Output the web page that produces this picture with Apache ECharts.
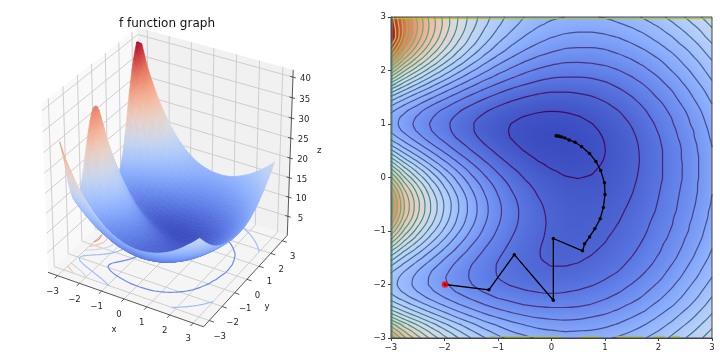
<!DOCTYPE html>
<html>
<head>
<meta charset="utf-8">
<style>
  html, body { margin: 0; padding: 0; background: #fff; }
  #chart { width: 720px; height: 357px; }
</style>
<script src="https://cdn.jsdelivr.net/npm/echarts@6/dist/echarts.min.js"></script>
</head>
<body>
<div id="chart"></div>
<script>
// grid positions of the table below
const xValues = [-3, -2.75, -2.5, -2.25, -2, -1.75, -1.5, -1.25, -1, -0.75, -0.5, -0.25, 0, 0.25, 0.5, 0.75, 1, 1.25, 1.5, 1.75, 2, 2.25, 2.5, 2.75, 3];
const yValues = [3, 2.875, 2.75, 2.625, 2.5, 2.375, 2.25, 2.125, 2, 1.875, 1.75, 1.625, 1.5, 1.375, 1.25, 1.125, 1, 0.875, 0.75, 0.625, 0.5, 0.375, 0.25, 0.125, 0, -0.125, -0.25, -0.375, -0.5, -0.625, -0.75, -0.875, -1, -1.125, -1.25, -1.375, -1.5, -1.625, -1.75, -1.875, -2, -2.125, -2.25, -2.375, -2.5, -2.625, -2.75, -2.875, -3];
const zRows = [
  [39.6, 34.3, 30.4, 27.0, 24.1, 21.6, 19.4, 17.6, 16.0, 14.8, 13.8, 13.1, 12.6, 12.3, 12.2, 12.2, 12.4, 12.8, 13.4, 14.1, 14.9, 15.9, 17.0, 18.2, 19.6],
  [40.0, 34.8, 30.8, 27.2, 24.2, 21.5, 19.2, 17.3, 15.7, 14.4, 13.4, 12.6, 12.0, 11.7, 11.6, 11.6, 11.8, 12.2, 12.7, 13.4, 14.2, 15.2, 16.3, 17.5, 18.9],
  [40.6, 34.9, 30.7, 27.1, 23.9, 21.2, 18.8, 16.8, 15.2, 13.9, 12.8, 12.0, 11.4, 11.1, 10.9, 10.9, 11.1, 11.5, 12.0, 12.7, 13.5, 14.5, 15.6, 16.8, 18.2],
  [40.9, 34.5, 30.2, 26.6, 23.4, 20.6, 18.2, 16.2, 14.6, 13.2, 12.2, 11.4, 10.8, 10.4, 10.3, 10.3, 10.5, 10.8, 11.4, 12.0, 12.9, 13.8, 14.9, 16.2, 17.6],
  [39.2, 33.4, 29.3, 25.7, 22.5, 19.8, 17.5, 15.5, 13.8, 12.5, 11.5, 10.7, 10.1, 9.7, 9.6, 9.6, 9.8, 10.2, 10.7, 11.4, 12.2, 13.2, 14.3, 15.5, 16.9],
  [37.4, 31.9, 27.9, 24.4, 21.4, 18.7, 16.5, 14.5, 13.0, 11.7, 10.7, 9.9, 9.4, 9.0, 8.9, 8.9, 9.1, 9.5, 10.0, 10.7, 11.6, 12.5, 13.6, 14.9, 16.3],
  [35.1, 29.9, 26.1, 22.8, 19.9, 17.5, 15.3, 13.5, 12.0, 10.8, 9.8, 9.1, 8.6, 8.3, 8.2, 8.2, 8.5, 8.9, 9.4, 10.1, 10.9, 11.9, 13.0, 14.3, 15.7],
  [32.3, 27.5, 24.0, 21.0, 18.3, 16.0, 14.0, 12.3, 10.9, 9.8, 8.9, 8.3, 7.8, 7.5, 7.5, 7.6, 7.8, 8.2, 8.8, 9.5, 10.3, 11.3, 12.5, 13.7, 15.1],
  [29.2, 24.9, 21.7, 18.9, 16.5, 14.4, 12.6, 11.1, 9.8, 8.8, 8.0, 7.4, 7.0, 6.8, 6.8, 6.9, 7.2, 7.6, 8.2, 8.9, 9.8, 10.8, 11.9, 13.2, 14.6],
  [25.9, 22.1, 19.3, 16.8, 14.7, 12.8, 11.2, 9.8, 8.7, 7.8, 7.1, 6.6, 6.2, 6.1, 6.1, 6.2, 6.5, 7.0, 7.6, 8.3, 9.2, 10.2, 11.4, 12.7, 14.1],
  [22.6, 19.4, 16.9, 14.7, 12.8, 11.2, 9.8, 8.5, 7.6, 6.8, 6.2, 5.7, 5.5, 5.3, 5.4, 5.6, 5.9, 6.4, 7.0, 7.8, 8.7, 9.7, 10.9, 12.2, 13.6],
  [19.4, 16.8, 14.6, 12.8, 11.1, 9.7, 8.4, 7.4, 6.5, 5.8, 5.3, 4.9, 4.7, 4.7, 4.8, 5.0, 5.4, 5.9, 6.5, 7.3, 8.2, 9.2, 10.4, 11.7, 13.1],
  [16.6, 14.4, 12.6, 11.0, 9.6, 8.3, 7.23, 6.32, 5.57, 4.97, 4.53, 4.23, 4.08, 4.07, 4.20, 4.46, 4.85, 5.38, 6.04, 6.83, 7.8, 8.8, 10.0, 11.3, 12.7],
  [14.4, 12.5, 11.0, 9.5, 8.3, 7.2, 6.23, 5.43, 4.77, 4.25, 3.87, 3.62, 3.52, 3.54, 3.69, 3.98, 4.40, 4.94, 5.61, 6.41, 7.3, 8.4, 9.6, 10.9, 12.3],
  [12.7, 11.1, 9.7, 8.4, 7.3, 6.3, 5.46, 4.72, 4.13, 3.66, 3.33, 3.12, 3.04, 3.09, 3.27, 3.57, 4.00, 4.55, 5.24, 6.04, 7.0, 8.0, 9.2, 10.5, 12.0],
  [11.7, 10.3, 9.0, 7.8, 6.7, 5.8, 4.94, 4.25, 3.69, 3.24, 2.93, 2.74, 2.68, 2.74, 2.93, 3.23, 3.67, 4.23, 4.92, 5.73, 6.7, 7.7, 8.9, 10.2, 11.7],
  [11.5, 10.1, 8.7, 7.5, 6.5, 5.5, 4.69, 3.99, 3.43, 2.98, 2.67, 2.48, 2.41, 2.47, 2.66, 2.97, 3.41, 3.96, 4.65, 5.46, 6.4, 7.5, 8.7, 10.0, 11.4],
  [12.0, 10.4, 9.0, 7.7, 6.6, 5.6, 4.71, 3.97, 3.37, 2.90, 2.56, 2.34, 2.27, 2.31, 2.49, 2.78, 3.21, 3.77, 4.45, 5.26, 6.2, 7.3, 8.4, 9.7, 11.2],
  [13.2, 11.4, 9.8, 8.3, 7.1, 5.9, 4.97, 4.15, 3.48, 2.95, 2.57, 2.32, 2.21, 2.22, 2.38, 2.66, 3.08, 3.62, 4.29, 5.09, 6.0, 7.1, 8.3, 9.6, 11.0],
  [15.1, 12.8, 11.0, 9.3, 7.9, 6.6, 5.47, 4.54, 3.77, 3.17, 2.72, 2.41, 2.26, 2.24, 2.36, 2.62, 3.01, 3.53, 4.19, 4.97, 5.9, 6.9, 8.1, 9.4, 10.8],
  [17.4, 14.6, 12.5, 10.6, 8.9, 7.4, 6.15, 5.08, 4.19, 3.49, 2.96, 2.59, 2.38, 2.31, 2.40, 2.63, 2.99, 3.50, 4.14, 4.91, 5.8, 6.8, 8.0, 9.3, 10.7],
  [20.0, 16.7, 14.2, 12.0, 10.1, 8.4, 6.95, 5.73, 4.71, 3.90, 3.29, 2.84, 2.57, 2.45, 2.50, 2.69, 3.02, 3.50, 4.12, 4.88, 5.8, 6.8, 8.0, 9.2, 10.7],
  [22.8, 19.0, 16.1, 13.6, 11.4, 9.5, 7.83, 6.44, 5.29, 4.37, 3.66, 3.14, 2.80, 2.63, 2.63, 2.79, 3.09, 3.54, 4.14, 4.88, 5.8, 6.8, 7.9, 9.2, 10.6],
  [25.6, 21.2, 18.0, 15.2, 12.7, 10.6, 8.74, 7.18, 5.90, 4.87, 4.07, 3.47, 3.07, 2.84, 2.80, 2.92, 3.20, 3.62, 4.20, 4.92, 5.8, 6.8, 7.9, 9.2, 10.6],
  [28.1, 23.3, 19.7, 16.6, 14.0, 11.6, 9.58, 7.88, 6.47, 5.34, 4.45, 3.79, 3.33, 3.05, 2.97, 3.06, 3.31, 3.71, 4.27, 4.98, 5.8, 6.8, 7.9, 9.2, 10.6],
  [30.3, 25.1, 21.3, 17.9, 15.0, 12.5, 10.34, 8.51, 7.00, 5.78, 4.82, 4.10, 3.59, 3.27, 3.16, 3.22, 3.44, 3.83, 4.37, 5.06, 5.9, 6.9, 8.0, 9.3, 10.7],
  [32.1, 26.5, 22.5, 18.9, 15.9, 13.2, 10.94, 9.02, 7.43, 6.14, 5.13, 4.36, 3.81, 3.46, 3.33, 3.36, 3.57, 3.94, 4.47, 5.15, 6.0, 7.0, 8.1, 9.3, 10.7],
  [33.2, 27.4, 23.3, 19.6, 16.5, 13.8, 11.37, 9.39, 7.75, 6.42, 5.38, 4.57, 4.00, 3.64, 3.48, 3.51, 3.70, 4.07, 4.59, 5.26, 6.1, 7.1, 8.2, 9.4, 10.8],
  [33.6, 27.8, 23.6, 19.9, 16.8, 14.0, 11.6, 9.60, 7.94, 6.60, 5.54, 4.73, 4.15, 3.78, 3.62, 3.64, 3.83, 4.19, 4.71, 5.38, 6.2, 7.2, 8.3, 9.5, 10.9],
  [33.5, 27.7, 23.5, 19.9, 16.7, 14.0, 11.62, 9.64, 8.00, 6.67, 5.63, 4.82, 4.25, 3.89, 3.73, 3.76, 3.95, 4.32, 4.84, 5.51, 6.3, 7.3, 8.4, 9.7, 11.1],
  [32.6, 27.0, 23.0, 19.4, 16.4, 13.7, 11.44, 9.52, 7.93, 6.64, 5.63, 4.86, 4.31, 3.96, 3.83, 3.86, 4.07, 4.44, 4.97, 5.65, 6.5, 7.5, 8.6, 9.8, 11.2],
  [31.1, 25.8, 22.0, 18.7, 15.8, 13.3, 11.09, 9.26, 7.75, 6.53, 5.57, 4.85, 4.34, 4.02, 3.91, 3.97, 4.19, 4.58, 5.12, 5.81, 6.7, 7.6, 8.8, 10.0, 11.4],
  [29.1, 24.3, 20.7, 17.6, 15.0, 12.6, 10.58, 8.88, 7.47, 6.34, 5.45, 4.79, 4.33, 4.05, 3.97, 4.06, 4.31, 4.71, 5.27, 5.98, 6.8, 7.8, 8.9, 10.2, 11.6],
  [26.8, 22.5, 19.3, 16.4, 14.0, 11.8, 9.99, 8.43, 7.15, 6.12, 5.32, 4.72, 4.32, 4.09, 4.05, 4.17, 4.45, 4.87, 5.45, 6.17, 7.0, 8.0, 9.2, 10.4, 11.8],
  [24.3, 20.5, 17.6, 15.1, 12.9, 11.0, 9.33, 7.94, 6.79, 5.87, 5.16, 4.64, 4.30, 4.13, 4.13, 4.29, 4.59, 5.04, 5.64, 6.38, 7.3, 8.3, 9.4, 10.7, 12.1],
  [21.7, 18.5, 16.0, 13.8, 11.9, 10.2, 8.70, 7.48, 6.46, 5.65, 5.04, 4.59, 4.32, 4.20, 4.25, 4.44, 4.77, 5.25, 5.87, 6.63, 7.5, 8.5, 9.7, 11.0, 12.4],
  [19.4, 16.6, 14.5, 12.6, 10.9, 9.4, 8.15, 7.08, 6.19, 5.49, 4.96, 4.59, 4.38, 4.31, 4.40, 4.63, 4.99, 5.50, 6.14, 6.91, 7.8, 8.8, 10.0, 11.3, 12.7],
  [17.3, 15.1, 13.2, 11.6, 10.1, 8.8, 7.7, 6.8, 6.0, 5.4, 5.0, 4.7, 4.5, 4.5, 4.6, 4.9, 5.3, 5.8, 6.4, 7.2, 8.1, 9.2, 10.4, 11.7, 13.1],
  [15.7, 13.9, 12.3, 10.8, 9.6, 8.4, 7.5, 6.7, 6.0, 5.5, 5.1, 4.8, 4.7, 4.7, 4.9, 5.2, 5.6, 6.1, 6.8, 7.6, 8.5, 9.6, 10.8, 12.1, 13.5],
  [14.8, 13.2, 11.8, 10.5, 9.3, 8.3, 7.5, 6.7, 6.1, 5.7, 5.3, 5.1, 5.0, 5.1, 5.2, 5.5, 6.0, 6.5, 7.2, 8.0, 8.9, 10.0, 11.2, 12.5, 13.9],
  [14.5, 13.1, 11.7, 10.5, 9.5, 8.5, 7.7, 7.0, 6.4, 6.0, 5.7, 5.5, 5.4, 5.5, 5.7, 6.0, 6.4, 7.0, 7.7, 8.5, 9.4, 10.5, 11.7, 13.0, 14.4],
  [15.0, 13.5, 12.2, 11.0, 9.9, 9.0, 8.2, 7.5, 6.9, 6.5, 6.2, 6.0, 5.9, 6.0, 6.2, 6.5, 6.9, 7.5, 8.2, 9.0, 9.9, 11.0, 12.2, 13.5, 14.9],
  [16.2, 14.6, 13.2, 11.9, 10.8, 9.8, 9.0, 8.2, 7.6, 7.2, 6.8, 6.6, 6.5, 6.6, 6.8, 7.1, 7.5, 8.1, 8.7, 9.5, 10.5, 11.5, 12.7, 14.0, 15.5],
  [18.1, 16.3, 14.7, 13.3, 12.0, 10.9, 10.0, 9.2, 8.5, 8.0, 7.6, 7.4, 7.3, 7.3, 7.4, 7.7, 8.2, 8.7, 9.4, 10.2, 11.1, 12.1, 13.3, 14.6, 16.1],
  [20.6, 18.4, 16.6, 15.0, 13.6, 12.3, 11.2, 10.3, 9.6, 9.0, 8.5, 8.2, 8.1, 8.1, 8.2, 8.5, 8.9, 9.4, 10.0, 10.8, 11.8, 12.8, 14.0, 15.3, 16.7],
  [23.7, 21.0, 18.9, 17.0, 15.4, 13.9, 12.7, 11.6, 10.8, 10.1, 9.6, 9.2, 9.0, 8.9, 9.0, 9.3, 9.6, 10.1, 10.8, 11.5, 12.5, 13.5, 14.7, 15.9, 17.4],
  [27.1, 23.9, 21.4, 19.2, 17.3, 15.7, 14.3, 13.0, 12.1, 11.3, 10.7, 10.2, 10.0, 9.8, 9.9, 10.1, 10.4, 10.9, 11.5, 12.3, 13.2, 14.2, 15.4, 16.7, 18.1],
  [29.7, 26.2, 23.5, 21.1, 19.0, 17.2, 15.6, 14.3, 13.2, 12.3, 11.7, 11.2, 10.9, 10.7, 10.8, 10.9, 11.2, 11.7, 12.3, 13.1, 13.9, 15.0, 16.1, 17.4, 18.8],
  [32.1, 28.2, 25.3, 22.7, 20.5, 18.6, 16.9, 15.5, 14.3, 13.4, 12.7, 12.1, 11.8, 11.6, 11.6, 11.8, 12.1, 12.5, 13.1, 13.8, 14.7, 15.7, 16.9, 18.1, 19.5]
];
// right panel
const contourLevels = [3, 4.55, 6.1, 7.65, 9.2, 10.75, 12.3, 13.85, 15.4, 16.95, 18.5, 20.05, 21.6, 23.15, 24.7, 26.25, 27.8, 29.35, 30.9, 32.45, 34, 35.55, 37.1, 38.65];
const pathPoints = [[-1.99, -2], [-1.17, -2.1], [-0.695, -1.443], [0.034, -2.295], [0.034, -1.14], [0.58, -1.37], [0.62, -1.24], [0.71, -1.11], [0.81, -0.96], [0.91, -0.77], [0.97, -0.56], [1, -0.32], [0.99, -0.1], [0.92, 0.13], [0.83, 0.3], [0.71, 0.45], [0.56, 0.58], [0.44, 0.66], [0.33, 0.7], [0.25, 0.74], [0.19, 0.757], [0.145, 0.77], [0.11, 0.775], [0.085, 0.78]];
const startPoint = [[-1.99, -2]];
const topEdge = [[-3, 2.97], [3, 2.97]];
const bottomEdge = [[-1.15, -2.97], [-1.05, -2.97], null, [-0.96, -2.97], [0.22, -2.97], null, [0.53, -2.97], [0.91, -2.97], null, [1.19, -2.97], [1.71, -2.97], null, [1.9, -2.97], [2.12, -2.97], null, [2.25, -2.97], [2.4, -2.97]];
const leftEdge = [[-2.98, 3], [-2.98, -3]];
// left panel
const floorLevels = [8, 14, 20, 26, 32, 38];
const tickValues = [-3, -2, -1, 0, 1, 2, 3];
const zTicks = [5, 10, 15, 20, 25, 30, 35, 40];
const BOX = 3.44; // pane extent on x and y
const ZTOP = 41.75;

const FONT = '"DejaVu Sans", sans-serif';
const coolStops = [[59, 76, 192], [98, 130, 234], [141, 176, 254], [184, 208, 249], [221, 220, 220], [245, 196, 172], [244, 154, 123], [221, 96, 74], [180, 4, 38]];
const viridisStops = [[68, 1, 84], [71, 44, 122], [59, 81, 139], [44, 113, 142], [33, 144, 141], [39, 173, 129], [92, 200, 99], [170, 220, 50], [253, 231, 37]];

function ramp(stops, t) {
  t = Math.max(0, Math.min(1, t)) * (stops.length - 1);
  const i = Math.min(stops.length - 2, Math.floor(t));
  const f = t - i;
  return stops[i].map((v, k) => Math.round(v + (stops[i + 1][k] - v) * f));
}
const rgb = (c) => 'rgb(' + c.join(',') + ')';
const coolwarm = (z) => rgb(ramp(coolStops, (z - 2.2) / 38.7));
const viridis = (z) => rgb(ramp(viridisStops, (z - 3) / 39));

// matplotlib style view: elev 30, azim -60, dist 10
function project(x, y, z) {
  const a = x / (2 * BOX), b = y / (2 * BOX), c = z / ZTOP - 0.5;
  const xv = 0.866 * a + 0.5 * b;
  const yv = -0.25 * a + 0.433 * b + 0.866 * c;
  const s = 10 / (10 - depth(x, y, z));
  return [xv * s, yv * s];
}
function depth(x, y, z) {
  return 0.433 * x / (2 * BOX) - 0.75 * y / (2 * BOX) + 0.5 * (z / ZTOP - 0.5);
}

// contour polylines out of zRows, segments get chained edge to edge
function contourLines(level) {
  const pts = {}, links = {};
  const cross = (r1, c1, r2, c2) => {
    const v1 = zRows[r1][c1], v2 = zRows[r2][c2];
    if ((v1 >= level) === (v2 >= level)) return null;
    const id = r1 + '_' + c1 + '_' + r2 + '_' + c2;
    const t = (level - v1) / (v2 - v1);
    pts[id] = [xValues[c1] + (xValues[c2] - xValues[c1]) * t, yValues[r1] + (yValues[r2] - yValues[r1]) * t];
    return id;
  };
  const link = (a, b) => {
    (links[a] = links[a] || []).push(b);
    (links[b] = links[b] || []).push(a);
  };
  for (let r = 0; r < yValues.length - 1; r++) {
    for (let c = 0; c < xValues.length - 1; c++) {
      const e = [cross(r, c, r, c + 1), cross(r, c + 1, r + 1, c + 1), cross(r + 1, c, r + 1, c + 1), cross(r, c, r + 1, c)].filter(Boolean);
      if (e.length >= 2) link(e[0], e[1]);
      if (e.length === 4) link(e[2], e[3]);
    }
  }
  const used = {}, lines = [];
  const walk = (start) => {
    const line = [];
    let cur = start;
    while (cur && !used[cur]) {
      used[cur] = true;
      line.push(pts[cur]);
      cur = links[cur].find((n) => !used[n]);
    }
    if (links[start].length === 2 && line.length > 2) line.push(pts[start]);
    lines.push(line);
  };
  Object.keys(links).filter((k) => links[k].length === 1).forEach((k) => { if (!used[k]) walk(k); });
  Object.keys(links).forEach((k) => { if (!used[k]) walk(k); });
  return lines;
}

// colour table, the browser smooths it when it is stretched over the grid
const heatCanvas = document.createElement('canvas');
heatCanvas.width = xValues.length;
heatCanvas.height = yValues.length;
const heatCtx = heatCanvas.getContext('2d');
zRows.forEach((row, r) => row.forEach((z, c) => {
  heatCtx.fillStyle = coolwarm(z);
  heatCtx.fillRect(c, r, 1, 1);
}));

// helper: custom series on the hidden projection axes
function sceneSeries(items, draw, z) {
  return {
    type: 'custom',
    coordinateSystem: 'cartesian2d',
    xAxisIndex: 0,
    yAxisIndex: 0,
    clip: false,
    silent: true,
    animation: false,
    z: z,
    data: items.map((_, i) => [i, i]),
    renderItem: (params, api) => draw(items[params.dataIndex], api)
  };
}
const px = (api, x, y, z) => api.coord(project(x, y, z));

function lineShape(api, a, b, color, width) {
  const p = px(api, a[0], a[1], a[2]), q = px(api, b[0], b[1], b[2]);
  return { type: 'line', shape: { x1: p[0], y1: p[1], x2: q[0], y2: q[1] }, style: { stroke: color, lineWidth: width } };
}
function textShape(api, p, off, text) {
  const c = px(api, p[0], p[1], p[2]);
  return { type: 'text', style: { x: c[0] + off[0], y: c[1] + off[1], text: String(text).replace('-', '\u2212'), fill: '#262626', font: '8.5px ' + FONT, align: 'center', verticalAlign: 'middle' } };
}

// panes
const panes = [
  { c: [[-BOX, -BOX, 0], [-BOX, BOX, 0], [-BOX, BOX, ZTOP], [-BOX, -BOX, ZTOP]], fill: '#f9f9f9' },
  { c: [[-BOX, BOX, 0], [BOX, BOX, 0], [BOX, BOX, ZTOP], [-BOX, BOX, ZTOP]], fill: '#f1f1f1' },
  { c: [[-BOX, -BOX, 0], [BOX, -BOX, 0], [BOX, BOX, 0], [-BOX, BOX, 0]], fill: '#f5f5f5' }
];
// grid lines on the panes
const gridSegs = [];
tickValues.forEach((t) => {
  gridSegs.push([[t, -BOX, 0], [t, BOX, 0]], [[t, BOX, 0], [t, BOX, ZTOP]]);
  gridSegs.push([[-BOX, t, 0], [BOX, t, 0]], [[-BOX, t, 0], [-BOX, t, ZTOP]]);
});
zTicks.forEach((z) => {
  gridSegs.push([[-BOX, -BOX, z], [-BOX, BOX, z]], [[-BOX, BOX, z], [BOX, BOX, z]]);
});
// axis lines and ticks
const axisSegs = [
  [[-BOX, -BOX, 0], [BOX, -BOX, 0]],
  [[BOX, -BOX, 0], [BOX, BOX, 0]],
  [[BOX, BOX, 0], [BOX, BOX, ZTOP]]
];
tickValues.forEach((t) => {
  axisSegs.push([[t, -BOX, 0], [t, -BOX - 0.2, 0]], [[BOX, t, 0], [BOX + 0.2, t, 0]]);
});
zTicks.forEach((z) => axisSegs.push([[BOX - 0.12, BOX, z], [BOX + 0.12, BOX, z]]));
// tick labels
const labels = [];
tickValues.forEach((t) => {
  labels.push({ p: [t, -BOX, 0], off: [-5, 16], text: t });
  labels.push({ p: [BOX, t, 0], off: [10.5, 16], text: t });
});
zTicks.forEach((z) => labels.push({ p: [BOX, BOX, z], off: [12.5, 2], text: z }));
labels.push({ p: [0, -BOX, 0], off: [-10, 31], text: 'x' });
labels.push({ p: [BOX, 0, 0], off: [20, 27], text: 'y' });
labels.push({ p: [BOX, BOX, 20.9], off: [29, -3.6], text: 'z' });

// floor contours
const floorLines = [];
floorLevels.forEach((level) => {
  contourLines(level).forEach((line) => floorLines.push({ level, line }));
});
// surface facets, far ones first
const facets = [];
for (let r = 0; r < yValues.length - 1; r++) {
  for (let c = 0; c < xValues.length - 1; c++) {
    const corners = [[c, r], [c + 1, r], [c + 1, r + 1], [c, r + 1]].map((q) => [xValues[q[0]], yValues[q[1]], zRows[q[1]][q[0]]]);
    const mean = [0, 1, 2].map((k) => corners.reduce((s, q) => s + q[k], 0) / 4);
    facets.push({ corners, d: depth(mean[0], mean[1], mean[2]) });
  }
}
facets.sort((a, b) => a.d - b.d);

function drawFacet(f, api) {
  const p = f.corners.map((q) => px(api, q[0], q[1], q[2]));
  const zs = f.corners.map((q) => q[2]);
  const zMean = (zs[0] + zs[1] + zs[2] + zs[3]) / 4;
  // colour gradient along the screen slope of the facet
  const d1 = [p[2][0] - p[0][0], p[2][1] - p[0][1]], d2 = [p[3][0] - p[1][0], p[3][1] - p[1][1]];
  const dz1 = zs[2] - zs[0], dz2 = zs[3] - zs[1];
  const det = d1[0] * d2[1] - d1[1] * d2[0];
  let fill = coolwarm(zMean);
  if (Math.abs(det) > 1e-3) {
    const g = [(dz1 * d2[1] - dz2 * d1[1]) / det, (d1[0] * dz2 - d2[0] * dz1) / det];
    const gg = g[0] * g[0] + g[1] * g[1];
    if (gg > 1e-6) {
      const lo = Math.min.apply(null, zs), hi = Math.max.apply(null, zs);
      const cx = (p[0][0] + p[1][0] + p[2][0] + p[3][0]) / 4, cy = (p[0][1] + p[1][1] + p[2][1] + p[3][1]) / 4;
      const a = (lo - zMean) / gg, b = (hi - zMean) / gg;
      fill = new echarts.graphic.LinearGradient(cx + g[0] * a, cy + g[1] * a, cx + g[0] * b, cy + g[1] * b, [
        { offset: 0, color: coolwarm(lo) },
        { offset: 1, color: coolwarm(hi) }
      ], true);
    }
  }
  return { type: 'polygon', shape: { points: p }, style: { fill: fill, stroke: fill, lineWidth: 0.7 } };
}

// right panel series
const contourSeries = [];
contourLevels.forEach((level) => {
  contourLines(level).forEach((line) => {
    contourSeries.push({
      type: 'line',
      xAxisIndex: 1,
      yAxisIndex: 1,
      data: line,
      showSymbol: false,
      smooth: 0.3,
      silent: true,
      animation: false,
      z: 3,
      lineStyle: { color: viridis(level), width: 1.2, opacity: 0.9 }
    });
  });
});
const edgeLine = (data, color) => ({
  type: 'line', xAxisIndex: 1, yAxisIndex: 1, data: data, showSymbol: false, silent: true, animation: false, z: 4,
  lineStyle: { color: color, width: 1 }
});

const option = {
  animation: false,
  backgroundColor: '#fff',
  title: {
    text: 'f function graph',
    left: 162,
    top: 13,
    textAlign: 'center',
    textStyle: { fontFamily: FONT, fontSize: 12, fontWeight: 'normal', color: '#111' }
  },
  grid: [
    { left: 0, top: 0, width: 360, height: 357 },
    { left: 391, top: 17, width: 321, height: 321, show: true, borderColor: '#444', borderWidth: 1, backgroundColor: 'transparent', z: 8 }
  ],
  xAxis: [
    { gridIndex: 0, type: 'value', show: false, min: -0.9443, max: 1.0613 },
    {
      gridIndex: 1, type: 'value', min: -3, max: 3, interval: 1,
      axisLine: { onZero: false, lineStyle: { color: '#444' } },
      axisTick: { length: 3, lineStyle: { color: '#444' } },
      axisLabel: { fontFamily: FONT, fontSize: 8.5, color: '#262626', margin: 5, formatter: (v) => String(v).replace('-', '\u2212') },
      splitLine: { show: false }
    }
  ],
  yAxis: [
    { gridIndex: 0, type: 'value', show: false, min: -0.9585, max: 0.8912 },
    {
      gridIndex: 1, type: 'value', min: -3, max: 3, interval: 1,
      axisLine: { onZero: false, lineStyle: { color: '#444' } },
      axisTick: { length: 3, lineStyle: { color: '#444' } },
      axisLabel: { fontFamily: FONT, fontSize: 8.5, color: '#262626', margin: 5, formatter: (v) => String(v).replace('-', '\u2212') },
      splitLine: { show: false }
    }
  ],
  series: [
    sceneSeries(panes, (pane, api) => ({
      type: 'polygon',
      shape: { points: pane.c.map((q) => px(api, q[0], q[1], q[2])) },
      style: { fill: pane.fill }
    }), 1),
    sceneSeries(gridSegs, (s, api) => lineShape(api, s[0], s[1], '#c9c9c9', 0.9), 1.1),
    sceneSeries(floorLines, (f, api) => ({
      type: 'polyline',
      shape: { points: f.line.map((q) => px(api, q[0], q[1], 0)), smooth: 0.25 },
      style: { stroke: coolwarm(f.level), fill: null, lineWidth: 1.2 }
    }), 1.2),
    sceneSeries(axisSegs, (s, api) => lineShape(api, s[0], s[1], '#444', 0.9), 1.3),
    sceneSeries(facets, drawFacet, 1.4),
    sceneSeries(labels, (l, api) => textShape(api, l.p, l.off, l.text), 1.5),
    {
      type: 'custom',
      xAxisIndex: 1,
      yAxisIndex: 1,
      silent: true,
      animation: false,
      z: 2,
      data: [[-3, 3]],
      renderItem: (params, api) => {
        const a = api.coord([-3, 3]), b = api.coord([3, -3]);
        return {
          type: 'image',
          style: { image: heatCanvas, x: a[0], y: a[1], width: b[0] - a[0], height: b[1] - a[1], sx: 0.5, sy: 0.5, sWidth: xValues.length - 1, sHeight: yValues.length - 1 }
        };
      }
    },
    ...contourSeries,
    edgeLine(topEdge, '#b4c41e'),
    edgeLine(bottomEdge, '#b4c41e'),
    edgeLine(leftEdge, '#2f9a8a'),
    {
      type: 'line',
      xAxisIndex: 1,
      yAxisIndex: 1,
      data: pathPoints,
      symbol: 'circle',
      symbolSize: 3.5,
      silent: true,
      animation: false,
      z: 6,
      itemStyle: { color: '#000' },
      lineStyle: { color: '#000', width: 1.3 }
    },
    {
      type: 'scatter',
      xAxisIndex: 1,
      yAxisIndex: 1,
      data: startPoint,
      symbolSize: 6.5,
      silent: true,
      animation: false,
      z: 7,
      itemStyle: { color: '#f00' }
    }
  ]
};

const chart = echarts.init(document.getElementById('chart'), null, { renderer: 'canvas' });
chart.setOption(option);
</script>
</body>
</html>
